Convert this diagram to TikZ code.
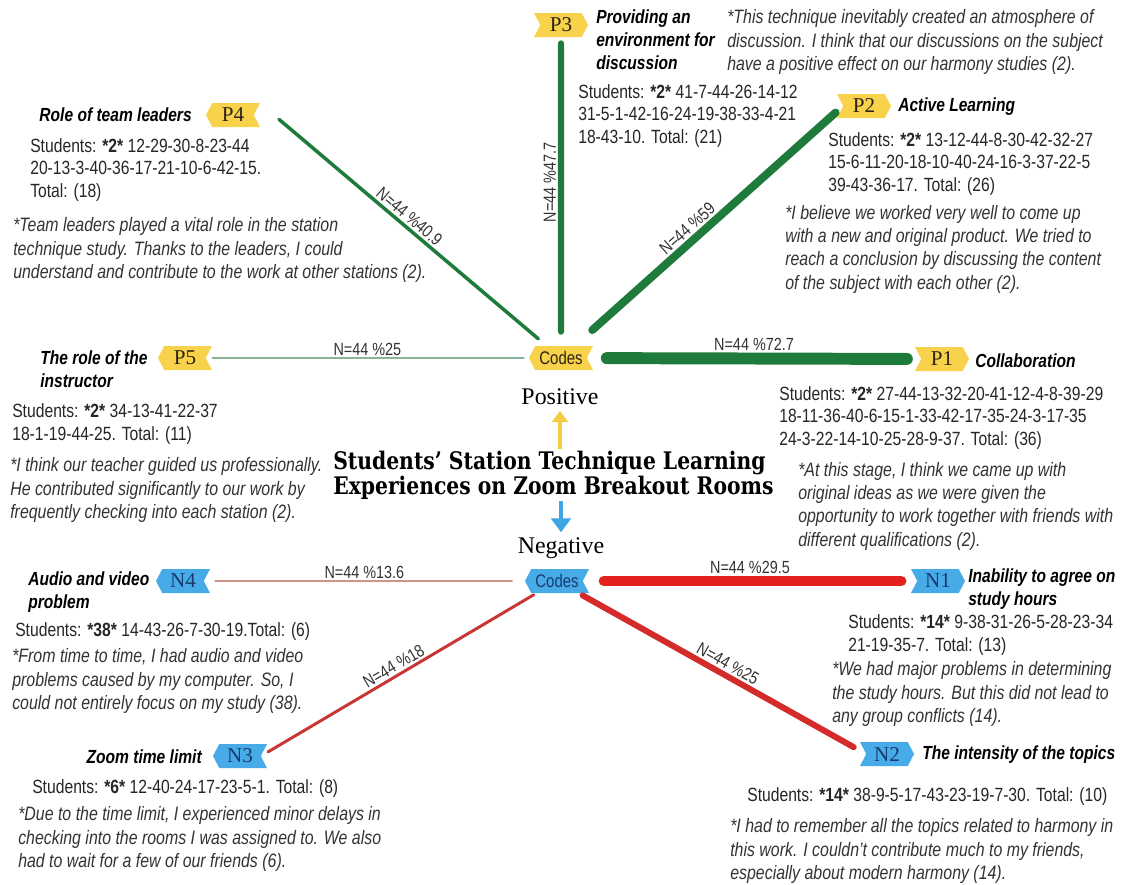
\documentclass[tikz,border=0pt]{standalone}
\usepackage{fontspec}
\setmainfont{Liberation Sans}[FakeStretch=0.82]
\newfontfamily\tagfont{Liberation Serif}
\newfontfamily\titlefont{DejaVu Serif}[FakeStretch=0.84]
\usetikzlibrary{shapes.symbols,arrows.meta}

\definecolor{posyellow}{HTML}{F8D24A}
\definecolor{negblue}{HTML}{47ABE8}
\definecolor{posgreen}{HTML}{1E7B3B}
\definecolor{thingreen}{HTML}{4E8A64}
\definecolor{negred}{HTML}{E3211F}
\definecolor{midred}{HTML}{D52A2A}
\definecolor{darkred}{HTML}{C83535}
\definecolor{thinred}{HTML}{B7584E}
\definecolor{tagtext}{HTML}{2B2416}
\definecolor{navy}{HTML}{183A6E}
\definecolor{studgrey}{HTML}{262626}
\definecolor{quotegrey}{HTML}{333333}
\definecolor{arrowyellow}{HTML}{F5CC45}
\definecolor{arrowblue}{HTML}{3FA5E5}

\begin{document}
\begin{tikzpicture}[x=0.025cm,y=-0.025cm,
tag/.style={signal,signal pointer angle=125,minimum width=1.35cm,minimum height=0.6cm,inner sep=0pt,font=\tagfont\fontsize{15}{15}\selectfont},
ptag/.style={tag,fill=posyellow,text=tagtext},
ntag/.style={tag,fill=negblue,text=navy},
toright/.style={signal to=east,signal from=west},
toleft/.style={signal to=west,signal from=east},
codetag/.style={minimum width=1.6cm,font=\fontsize{13}{13}\selectfont},
headtext/.style={font=\bfseries\itshape\fontsize{13.5}{16.3}\selectfont,align=left,inner sep=0pt},
studtext/.style={font=\fontsize{13.6}{16}\selectfont,text=studgrey,align=left,inner sep=0pt},
quotetext/.style={font=\itshape\fontsize{13.8}{16.6}\selectfont,text=quotegrey,align=left,inner sep=0pt},
elabel/.style={font=\fontsize{12.5}{12.5}\selectfont,text=quotegrey,sloped,above,inner sep=1.5pt,midway},
gline/.style={draw=posgreen,line cap=round},
rline/.style={draw=negred,line cap=round},
signtext/.style={font=\tagfont\fontsize{17}{17}\selectfont,inner sep=1pt}]

\useasboundingbox[fill=white] (0,0) rectangle (1128,884);

\node[ptag,toleft,codetag] (cp) at (561,358) {Codes};
\node[ntag,toleft,codetag] (cn) at (557,581) {Codes};

\foreach \n/\x/\y in {P1/942/359,P2/864/106,P3/561/25}
  \node[ptag,toright] (\n) at (\x,\y) {\n};
\foreach \n/\x/\y in {P4/233/115,P5/185/358}
  \node[ptag,toleft] (\n) at (\x,\y) {\n};
\foreach \n/\x/\y in {N1/938/581,N2/887/754}
  \node[ntag,toright] (\n) at (\x,\y) {\n};
\foreach \n/\x/\y in {N3/240/756,N4/183/581}
  \node[ntag,toleft] (\n) at (\x,\y) {\n};

\draw[gline,line width=8.5pt,shorten <=14pt,shorten >=10pt] (cp) -- (P1) node[elabel]{N=44 \%72.7};
\draw[gline,line width=5.7pt,shorten <=16.7pt,shorten >=7pt] (cp) -- (P2.180) node[elabel,pos=0.45]{N=44 \%59};
\draw[gline,line width=4.3pt,shorten <=10pt,shorten >=4.3pt] (cp) -- (P3) node[elabel,allow upside down,pos=0.53]{N=44 \%47.7};
\draw[gline,line width=2.5pt,shorten <=7.6pt,shorten >=18.3pt] (cp) -- (P4.25) node[elabel]{N=44 \%40.9};
\draw[draw=thingreen,line width=0.8pt,shorten <=3pt,shorten >=4.3pt] (cp) -- (P5) node[elabel]{N=44 \%25};

\draw[rline,line width=7pt,shorten <=14.6pt,shorten >=11pt] (cn) -- (N1) node[elabel]{N=44 \%29.5};
\draw[rline,draw=midred,line width=4.3pt,shorten <=3pt,shorten >=10pt] (cn) -- (N2.180) node[elabel]{N=44 \%25};
\draw[rline,draw=darkred,line width=2.1pt,shorten <=2pt,shorten >=5.7pt] (cn) -- (N3.0) node[elabel]{N=44 \%18};
\draw[draw=thinred,line width=0.75pt,shorten <=8.5pt,shorten >=7.5pt] (cn) -- (N4) node[elabel]{N=44 \%13.6};

\node[font=\titlefont\bfseries\fontsize{17.2}{17.8}\selectfont,align=left,inner sep=0pt,anchor=west] (title) at (333,475) {Students’ Station Technique Learning\\Experiences on Zoom Breakout Rooms};
\node[signtext] (pos) at (560,397) {Positive};
\node[signtext] (neg) at (561,548) {Negative};
\draw[draw=arrowyellow,line width=3.5pt,-{Triangle[width=11.5pt,length=8pt]},shorten <=1pt,shorten >=3pt] (pos |- title.north) -- (pos.south);
\draw[draw=arrowblue,line width=3.5pt,-{Triangle[width=14pt,length=10pt]},shorten <=1pt,shorten >=2.5pt] (neg |- title.south) -- (neg.north);

\node[headtext,anchor=east] (p4head) at (192,115) {Role of team leaders};
\node[studtext,anchor=west] (p4stud) at (30,170) {Students: \textbf{*2*} 12-29-30-8-23-44\\20-13-3-40-36-17-21-10-6-42-15.\\Total: (18)};
\node[quotetext,anchor=west] (p4quote) at (13,250) {*Team leaders played a vital role in the station\\technique study. Thanks to the leaders, I could\\understand and contribute to the work at other stations (2).};

\node[headtext,anchor=west] (p3head) at (596,40) {Providing an\\environment for\\discussion};
\node[quotetext,anchor=west] (p3quote) at (727,42) {*This technique inevitably created an atmosphere of\\discussion. I think that our discussions on the subject\\have a positive effect on our harmony studies (2).};
\node[studtext,anchor=west] (p3stud) at (578,116) {Students: \textbf{*2*} 41-7-44-26-14-12\\31-5-1-42-16-24-19-38-33-4-21\\18-43-10. Total: (21)};

\node[headtext,anchor=west] (p2head) at (898,107) {Active Learning};
\node[studtext,anchor=west] (p2stud) at (828,164) {Students: \textbf{*2*} 13-12-44-8-30-42-32-27\\15-6-11-20-18-10-40-24-16-3-37-22-5\\39-43-36-17. Total: (26)};
\node[quotetext,anchor=west] (p2quote) at (785,249) {*I believe we worked very well to come up\\with a new and original product. We tried to\\reach a conclusion by discussing the content\\of the subject with each other (2).};

\node[headtext,anchor=west] (p1head) at (975,361) {Collaboration};
\node[studtext,anchor=west] (p1stud) at (779,418) {Students: \textbf{*2*} 27-44-13-32-20-41-12-4-8-39-29\\18-11-36-40-6-15-1-33-42-17-35-24-3-17-35\\24-3-22-14-10-25-28-9-37. Total: (36)};
\node[quotetext,anchor=west] (p1quote) at (798,506) {*At this stage, I think we came up with\\original ideas as we were given the\\opportunity to work together with friends with\\different qualifications (2).};

\node[headtext,anchor=west] (p5head) at (40,369) {The role of the\\instructor};
\node[studtext,anchor=west] (p5stud) at (12,424) {Students: \textbf{*2*} 34-13-41-22-37\\18-1-19-44-25. Total: (11)};
\node[quotetext,anchor=west] (p5quote) at (10,490) {*I think our teacher guided us professionally.\\He contributed significantly to our work by\\frequently checking into each station (2).};

\node[headtext,anchor=west] (n4head) at (28,592) {Audio and video\\problem};
\node[studtext,anchor=west] (n4stud) at (15,632) {Students: \textbf{*38*} 14-43-26-7-30-19.Total: (6)};
\node[quotetext,anchor=west] (n4quote) at (12,681) {*From time to time, I had audio and video\\problems caused by my computer. So, I\\could not entirely focus on my study (38).};

\node[headtext,anchor=east] (n3head) at (202,757) {Zoom time limit};
\node[studtext,anchor=west] (n3stud) at (32,789) {Students: \textbf{*6*} 12-40-24-17-23-5-1. Total: (8)};
\node[quotetext,anchor=west] (n3quote) at (18,839) {*Due to the time limit, I experienced minor delays in\\checking into the rooms I was assigned to. We also\\had to wait for a few of our friends (6).};

\node[headtext,anchor=west] (n1head) at (968,589) {Inability to agree on\\study hours};
\node[studtext,anchor=west] (n1stud) at (848,635) {Students: \textbf{*14*} 9-38-31-26-5-28-23-34\\21-19-35-7. Total: (13)};
\node[quotetext,anchor=west] (n1quote) at (832,694) {*We had major problems in determining\\the study hours. But this did not lead to\\any group conflicts (14).};

\node[headtext,anchor=west] (n2head) at (922,755) {The intensity of the topics};
\node[studtext,anchor=west] (n2stud) at (747,797) {Students: \textbf{*14*} 38-9-5-17-43-23-19-7-30. Total: (10)};
\node[quotetext,anchor=west] (n2quote) at (730,851) {*I had to remember all the topics related to harmony in\\this work. I couldn’t contribute much to my friends,\\especially about modern harmony (14).};
\end{tikzpicture}
\end{document}
